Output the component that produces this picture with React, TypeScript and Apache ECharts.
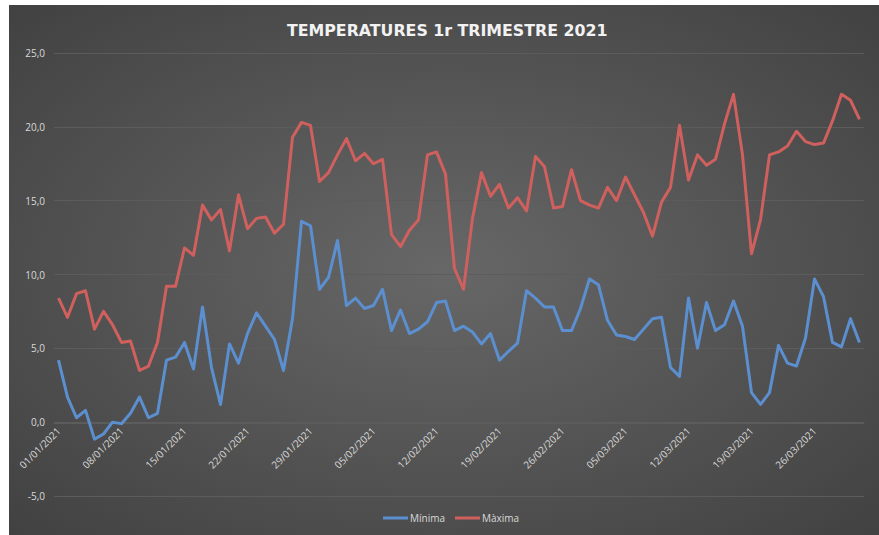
import React, { useEffect, useRef } from "react";
import * as echarts from "echarts";

const TITLE = "TEMPERATURES 1r TRIMESTRE 2021";
const SERIES_NAMES = ["Mínima", "Màxima"];
const Y_TICKS = [-5, 0, 5, 10, 15, 20, 25];

// 01/01/2021 .. 31/03/2021
const MONTH_DAYS = [31, 28, 31];
const categories: string[] = [];
MONTH_DAYS.forEach((n, m) => {
  for (let d = 1; d <= n; d++) {
    categories.push(`${String(d).padStart(2, "0")}/${String(m + 1).padStart(2, "0")}/2021`);
  }
});

const minima = [
  4.2, 1.7, 0.3, 0.8, -1.15, -0.8, 0.0, -0.1, 0.6, 1.7,
  0.3, 0.6, 4.2, 4.4, 5.4, 3.6, 7.8, 3.7, 1.2, 5.3,
  4.0, 6.0, 7.4, 6.5, 5.6, 3.5, 7.0, 13.6, 13.3, 9.0,
  9.8, 12.3, 7.9, 8.4, 7.7, 7.9, 9.0, 6.2, 7.6, 6.0,
  6.3, 6.8, 8.1, 8.2, 6.2, 6.5, 6.1, 5.3, 6.0, 4.2,
  4.8, 5.35, 8.9, 8.4, 7.8, 7.8, 6.2, 6.2, 7.7, 9.7,
  9.3, 6.9, 5.9, 5.8, 5.6, 6.3, 7.0, 7.1, 3.7, 3.1,
  8.4, 5.0, 8.1, 6.2, 6.6, 8.2, 6.5, 2.0, 1.2, 2.0,
  5.2, 4.0, 3.8, 5.7, 9.7, 8.5, 5.4, 5.1, 7.0, 5.4,
];

const maxima = [
  8.4, 7.1, 8.7, 8.9, 6.3, 7.5, 6.6, 5.4, 5.5, 3.5,
  3.8, 5.4, 9.2, 9.2, 11.8, 11.3, 14.7, 13.7, 14.4, 11.6,
  15.4, 13.1, 13.8, 13.9, 12.8, 13.4, 19.3, 20.3, 20.1, 16.3,
  16.9, 18.1, 19.2, 17.7, 18.2, 17.5, 17.8, 12.7, 11.9, 13.0,
  13.7, 18.1, 18.3, 16.8, 10.4, 9.0, 13.8, 16.9, 15.3, 16.1,
  14.5, 15.2, 14.3, 18.0, 17.3, 14.5, 14.6, 17.1, 15.0, 14.7,
  14.5, 15.9, 15.0, 16.6, 15.4, 14.2, 12.6, 14.9, 15.9, 20.1,
  16.4, 18.1, 17.4, 17.8, 20.2, 22.2, 18.1, 11.4, 13.7, 18.1,
  18.3, 18.7, 19.7, 19.0, 18.8, 18.9, 20.4, 22.2, 21.8, 20.5,
];

const FONT = "'Open Sans', 'Noto Sans', sans-serif";

export default function App() {
  const ref = useRef<HTMLDivElement>(null);
  useEffect(() => {
    document.body.style.margin = "0";
    const chart = echarts.init(ref.current!, null, { renderer: "svg" });
    chart.setOption({
      animation: false,
      backgroundColor: "#ffffff",
      graphic: [
        {
          type: "rect",
          z: -10,
          silent: true,
          shape: { x: 9, y: 5, width: 870, height: 530 },
          style: {
            fill: new echarts.graphic.RadialGradient(0.5, 0.5, 0.75, [
              { offset: 0, color: "#676767" },
              { offset: 1, color: "#3f3f3f" },
            ]),
          },
        },
      ],
      title: {
        text: TITLE,
        left: 282,
        top: 17,
        textStyle: {
          color: "#f2f2f2",
          fontSize: 15.8,
          fontWeight: "bold",
          fontFamily: "'DejaVu Sans', sans-serif",
        },
      },
      legend: {
        bottom: 7,
        left: 378,
        icon: "rect",
        itemWidth: 25,
        itemHeight: 3,
        itemGap: 10,
        textStyle: { color: "#d9d9d9", fontSize: 10, fontFamily: FONT, padding: [0, 0, 0, -3] },
        data: SERIES_NAMES,
      },
      grid: {
        left: 54,
        right: 15,
        top: 53,
        bottom: 39,
        containLabel: false,
        outerBoundsMode: "none",
      },
      xAxis: {
        type: "category",
        data: categories,
        boundaryGap: true,
        offset: -73,
        axisLine: {
          show: true,
          onZero: false,
          lineStyle: { color: "#5c5c5c", width: 1 },
        },
        axisTick: { show: false },
        splitLine: { show: false },
        axisLabel: {
          interval: 6,
          rotate: 45,
          color: "#d9d9d9",
          fontSize: 10,
          fontFamily: FONT,
          margin: 6,
        },
      },
      yAxis: {
        type: "value",
        min: -5,
        max: 25,
        interval: 5,
        axisLine: { show: false },
        axisTick: { show: false },
        splitLine: { lineStyle: { color: "#5c5c5c", width: 1 } },
        axisLabel: {
          color: "#d9d9d9",
          fontSize: 10,
          fontFamily: FONT,
          margin: 9,
          formatter: (v: number) => (Y_TICKS.includes(v) ? v.toFixed(1).replace(".", ",") : ""),
        },
      },
      series: [
        {
          name: SERIES_NAMES[0],
          type: "line",
          data: minima,
          showSymbol: false,
          symbol: "none",
          lineStyle: { color: "#5b8fd0", width: 3, join: "round" },
          itemStyle: { color: "#5b8fd0" },
        },
        {
          name: SERIES_NAMES[1],
          type: "line",
          data: maxima,
          showSymbol: false,
          symbol: "none",
          lineStyle: { color: "#d0605e", width: 3, join: "round" },
          itemStyle: { color: "#d0605e" },
        },
      ],
    });
    return () => chart.dispose();
  }, []);
  return <div ref={ref} style={{ width: 879, height: 535 }} />;
}
